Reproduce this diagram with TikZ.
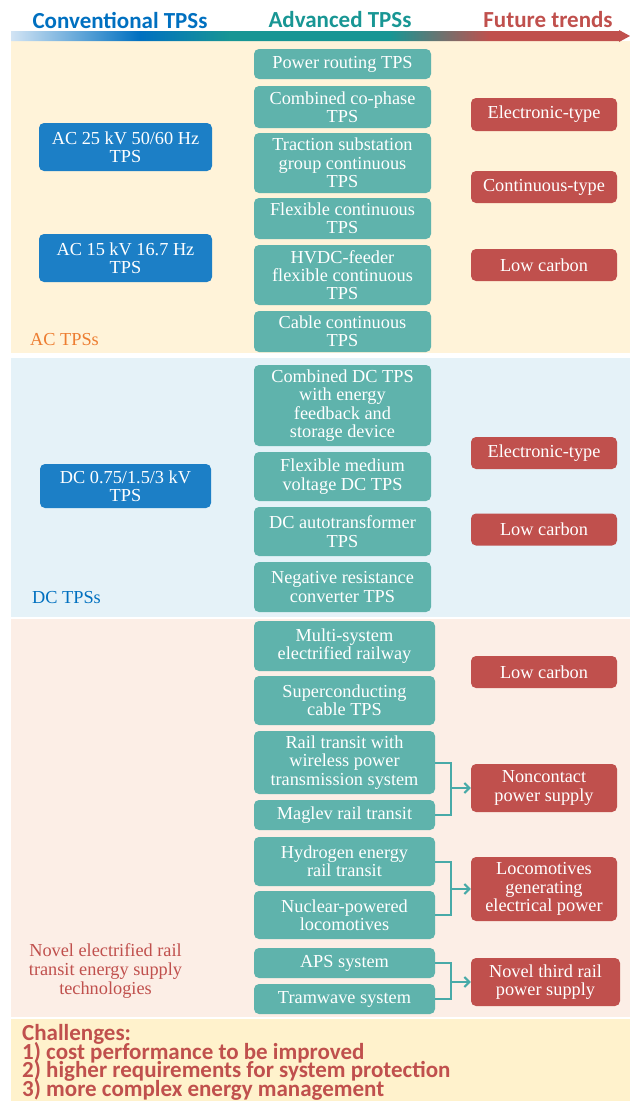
\documentclass[tikz,border=0pt]{standalone}
\usepackage{fontspec}
\setmainfont{Liberation Serif}
\newfontfamily\hdfont{Carlito}
\usetikzlibrary{arrows.meta}
\definecolor{barA}{RGB}{210,228,244}
\definecolor{hblue}{RGB}{0,112,192}
\definecolor{hteal}{RGB}{24,150,148}
\definecolor{hred}{RGB}{192,80,77}
\definecolor{blbox}{RGB}{28,127,198}
\definecolor{tlbox}{RGB}{95,179,172}
\definecolor{rdbox}{RGB}{192,80,77}
\definecolor{acbg}{RGB}{255,243,217}
\definecolor{dcbg}{RGB}{229,242,248}
\definecolor{nvbg}{RGB}{252,238,230}
\definecolor{chbg}{RGB}{255,242,204}
\definecolor{acorange}{RGB}{237,125,49}
\definecolor{connc}{RGB}{72,170,168}
\pgfdeclarehorizontalshading{barshade}{100bp}{color(0bp)=(barA); color(25bp)=(barA); color(35.4bp)=(hblue); color(42.7bp)=(hteal); color(55.6bp)=(hteal); color(63.7bp)=(hred); color(100bp)=(hred)}
\newcommand{\boxfont}{\fontsize{18.3}{18.3}\selectfont}
\newcommand{\chfont}{\hdfont\bfseries\fontsize{23}{18.8}\selectfont\lineskiplimit=-50pt\relax\lineskip=0pt\relax}
\begin{document}
\begin{tikzpicture}[x=1pt,y=-1pt,
  basebox/.style={text=white, rounded corners=5pt, inner sep=0pt, align=center, font=\boxfont},
  tbox/.style={basebox, fill=tlbox, minimum width=177pt},
  nbox/.style={basebox, fill=tlbox, minimum width=181pt},
  bbox/.style={basebox, fill=blbox, minimum width=173pt},
  rbox/.style={basebox, fill=rdbox, minimum width=146pt},
  title/.style={inner sep=0pt, font=\hdfont\bfseries\fontsize{23}{23}\selectfont},
  seclabel/.style={inner sep=0pt, font=\boxfont},
  conn/.style={draw=connc, line width=2pt},
  arr/.style={conn, -{Straight Barb[length=5pt,width=10pt,line width=2pt]}}
]
\useasboundingbox (0,0) rectangle (630,1101);
% panels
\fill[acbg] (11,41) rectangle (630,353);
\fill[dcbg] (11,358) rectangle (630,617);
\fill[nvbg] (11,619) rectangle (630,1017);
\fill[chbg] (11,1019) rectangle (630,1101);
% header bar
\shade[shading=barshade] (11,31) -- (619,31) -- (619,30) -- (630,36) -- (619,42) -- (619,41) -- (11,41) -- cycle;
\node[title, text=hblue] (t1) at (120,20) {Conventional TPSs};
\node[title, text=hteal] (t2) at (340,20) {Advanced TPSs};
\node[title, text=hred] (t3) at (548,20) {Future trends};
% AC section
\node[bbox, minimum height=48pt] (b1) at (125.5,147) {AC 25 kV 50/60 Hz\\TPS};
\node[bbox, minimum height=48pt] (b2) at (125.5,258) {AC 15 kV 16.7 Hz\\TPS};
\node[tbox, minimum height=30pt] (w1) at (342.5,64) {Power routing TPS};
\node[tbox, minimum height=42pt] (w2) at (342.5,107) {Combined co-phase\\TPS};
\node[tbox, minimum height=60pt] (w3) at (342.5,163) {Traction substation\\group continuous\\TPS};
\node[tbox, minimum height=41pt] (w4) at (342.5,218.5) {Flexible continuous\\TPS};
\node[tbox, minimum height=60pt] (w5) at (342.5,275) {HVDC-feeder\\flexible continuous\\TPS};
\node[tbox, minimum height=41pt] (w6) at (342.5,331.5) {Cable continuous\\TPS};
\node[rbox, minimum height=33pt] (r1) at (544,114.5) {Electronic-type};
\node[rbox, minimum height=32pt] (r2) at (544,187) {Continuous-type};
\node[rbox, minimum height=32pt] (r3) at (544,265) {Low carbon};
\node[seclabel, text=acorange, anchor=west] (l1) at (30,340) {AC TPSs};
% DC section
\node[bbox, minimum height=44pt, minimum width=171pt] (b3) at (125.5,486) {DC 0.75/1.5/3 kV\\TPS};
\node[tbox, minimum height=81pt] (w7) at (342.5,405.5) {Combined DC TPS\\with energy\\feedback and\\storage device};
\node[tbox, minimum height=49pt] (w8) at (342.5,476.5) {Flexible medium\\voltage DC TPS};
\node[tbox, minimum height=49pt] (w9) at (342.5,531.5) {DC autotransformer\\TPS};
\node[tbox, minimum height=50pt] (w10) at (342.5,587) {Negative resistance\\converter TPS};
\node[rbox, minimum height=32pt] (r4) at (544,453) {Electronic-type};
\node[rbox, minimum height=32pt] (r5) at (544,529.5) {Low carbon};
\node[seclabel, text=hblue, anchor=west] (l2) at (32,598) {DC TPSs};
% Novel section
\node[nbox, minimum height=50pt] (w11) at (344.5,646) {Multi-system\\electrified railway};
\node[nbox, minimum height=49pt] (w12) at (344.5,700.5) {Superconducting\\cable TPS};
\node[nbox, minimum height=63pt] (w13) at (344.5,762.5) {Rail transit with\\wireless power\\transmission system};
\node[nbox, minimum height=30pt] (w14) at (344.5,815) {Maglev rail transit};
\node[nbox, minimum height=49pt] (w15) at (344.5,861.5) {Hydrogen energy\\rail transit};
\node[nbox, minimum height=48pt] (w16) at (344.5,915) {Nuclear-powered\\locomotives};
\node[nbox, minimum height=30pt] (w17) at (344.5,963) {APS system};
\node[nbox, minimum height=30pt] (w18) at (344.5,999) {Tramwave system};
\node[rbox, minimum height=32pt] (r6) at (544,672) {Low carbon};
\node[rbox, minimum height=48pt] (r7) at (544,788) {Noncontact\\power supply};
\node[rbox, minimum height=64pt] (r8) at (544,889) {Locomotives\\generating\\electrical power};
\node[rbox, minimum height=48pt, minimum width=149pt] (r9) at (545.5,982) {Novel third rail\\power supply};
\node[seclabel, text=hred, align=center, font=\fontsize{18.3}{19}\selectfont] (l3) at (105.5,971) {Novel electrified rail\\transit energy supply\\technologies};
% connectors
\draw[conn] (w13.east) -- ++(16,0) coordinate (k1) |- (w14.east);
\draw[arr] (k1 |- r7.west) -- (r7.west);
\draw[conn] (w15.east) -- ++(16,0) coordinate (k2) |- (w16.east);
\draw[arr] (k2 |- r8.west) -- (r8.west);
\draw[conn] (w17.east) -- ++(16,0) coordinate (k3) |- (w18.east);
\draw[arr] (k3 |- r9.west) -- (r9.west);
% challenges
\node[anchor=north west, inner sep=0pt, align=left, text=hred, font=\chfont] (ch) at (22,1024) {Challenges:\\1) cost performance to be improved\\2) higher requirements for system protection\\3) more complex energy management};
\end{tikzpicture}
\end{document}
